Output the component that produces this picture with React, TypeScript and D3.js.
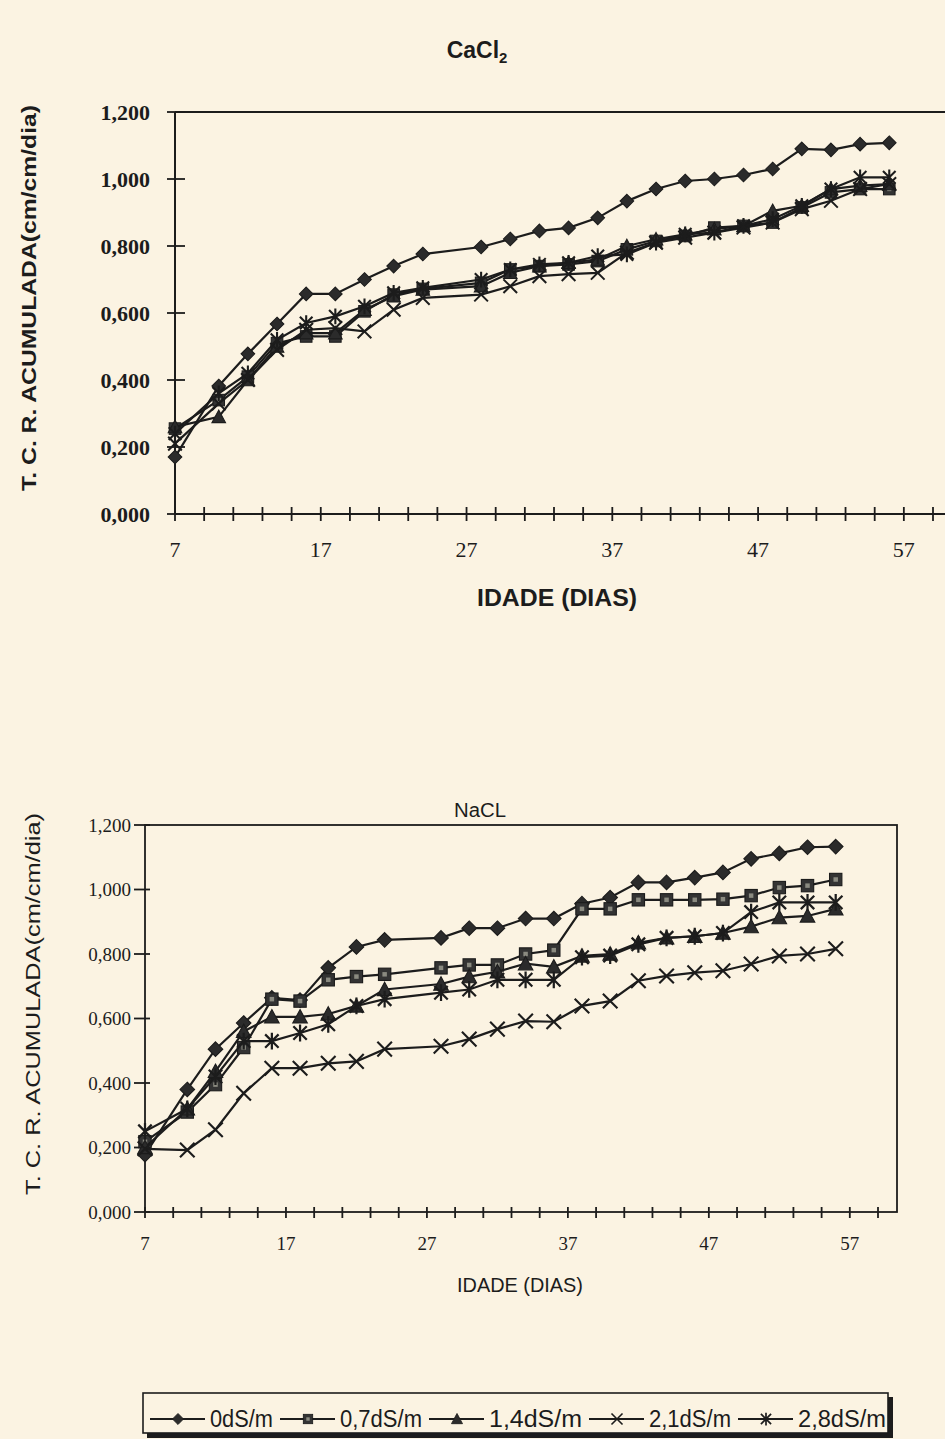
import React from "react";
import * as d3 from "d3";

// days sampled (x)
const DAYS = [7, 10, 12, 14, 16, 18, 20, 22, 24, 28, 30, 32, 34, 36, 38, 40, 42, 44, 46, 48, 50, 52, 54, 56];

// CaCl2 series
const CA_0 = [0.17, 0.382, 0.478, 0.567, 0.657, 0.657, 0.7, 0.74, 0.776, 0.797, 0.821, 0.845, 0.854, 0.884, 0.934, 0.97, 0.994, 1.0, 1.012, 1.03, 1.09, 1.087, 1.104, 1.108];
const CA_07 = [0.255, 0.34, 0.41, 0.51, 0.53, 0.53, 0.605, 0.655, 0.672, 0.69, 0.73, 0.74, 0.745, 0.755, 0.79, 0.815, 0.83, 0.855, 0.86, 0.87, 0.915, 0.96, 0.97, 0.97];
const CA_14 = [0.26, 0.29, 0.4, 0.5, 0.54, 0.54, 0.61, 0.65, 0.67, 0.68, 0.72, 0.74, 0.75, 0.76, 0.8, 0.82, 0.835, 0.85, 0.86, 0.905, 0.92, 0.97, 0.98, 0.985];
const CA_21 = [0.21, 0.33, 0.4, 0.49, 0.55, 0.555, 0.545, 0.61, 0.645, 0.655, 0.68, 0.71, 0.716, 0.72, 0.78, 0.81, 0.825, 0.84, 0.855, 0.87, 0.91, 0.935, 0.97, 0.985];
const CA_28 = [0.24, 0.36, 0.42, 0.52, 0.57, 0.59, 0.62, 0.66, 0.675, 0.7, 0.73, 0.745, 0.75, 0.77, 0.775, 0.81, 0.835, 0.84, 0.86, 0.88, 0.92, 0.97, 1.005, 1.005];

// NaCl series
const NA_0 = [0.178, 0.38, 0.505, 0.586, 0.664, 0.657, 0.757, 0.822, 0.844, 0.85, 0.88, 0.88, 0.91, 0.91, 0.956, 0.975, 1.022, 1.022, 1.037, 1.053, 1.095, 1.112, 1.131, 1.133];
const NA_07 = [0.218, 0.31, 0.395, 0.51, 0.66, 0.654, 0.72, 0.73, 0.737, 0.757, 0.766, 0.766, 0.8, 0.812, 0.94, 0.94, 0.968, 0.968, 0.968, 0.97, 0.981, 1.006, 1.012, 1.031];
const NA_14 = [0.2, 0.32, 0.436, 0.56, 0.605, 0.605, 0.614, 0.639, 0.69, 0.707, 0.73, 0.745, 0.77, 0.76, 0.794, 0.8, 0.835, 0.85, 0.855, 0.865, 0.885, 0.913, 0.918, 0.94];
const NA_21 = [0.196, 0.192, 0.255, 0.368, 0.446, 0.446, 0.461, 0.467, 0.505, 0.514, 0.536, 0.567, 0.592, 0.59, 0.639, 0.654, 0.717, 0.732, 0.742, 0.748, 0.769, 0.794, 0.8, 0.816];
const NA_28 = [0.25, 0.32, 0.42, 0.53, 0.53, 0.555, 0.582, 0.639, 0.66, 0.68, 0.69, 0.72, 0.72, 0.72, 0.79, 0.795, 0.83, 0.85, 0.855, 0.865, 0.93, 0.96, 0.96, 0.96];

const SERIES_NAMES = ["0dS/m", "0,7dS/m", "1,4dS/m", "2,1dS/m", "2,8dS/m"];
const MARKERS = ["diamond", "square", "triangle", "x", "asterisk"];
const Y_TICKS = [0, 0.2, 0.4, 0.6, 0.8, 1.0, 1.2];
const X_LABELS = [7, 17, 27, 37, 47, 57];
const X_MINOR = d3.range(7, 60, 2);

const BG = "#fbf3e2";
const INK = "#1c1c1c";
const SERIF = "'Liberation Serif', 'Times New Roman', serif";
const SANS = "'Liberation Sans', Arial, sans-serif";

const fmt = (v) => d3.format(".3f")(v).replace(".", ",");

function Marker({ kind, x, y, s = 1 }) {
  const t = `translate(${x},${y}) scale(${s})`;
  if (kind === "diamond")
    return <path transform={t} d="M0,-6.5L6.5,0L0,6.5L-6.5,0Z" fill="#2b2b2b" stroke={INK} strokeWidth={1} />;
  if (kind === "square")
    return (
      <g transform={t}>
        <rect x={-5.5} y={-5.5} width={11} height={11} fill="#333" stroke={INK} strokeWidth={1} />
        <rect x={-2} y={-2} width={4} height={4} fill="#8a8a80" />
      </g>
    );
  if (kind === "triangle")
    return <path transform={t} d="M0,-6.5L6.5,5.5L-6.5,5.5Z" fill="#2b2b2b" stroke={INK} strokeWidth={1} />;
  if (kind === "x")
    return <path transform={t} d="M-6.5,-6.5L6.5,6.5M-6.5,6.5L6.5,-6.5" fill="none" stroke={INK} strokeWidth={1.9} />;
  return <path transform={t} d="M-6,-6L6,6M-6,6L6,-6M0,-7.5V7.5" fill="none" stroke={INK} strokeWidth={2} />;
}

function Chart({ series, box, domainX, bold, frame, tickFont, yLabelRight, xLabelBase, yLabel, xTitle, title, mSize }) {
  const x = d3.scaleLinear().domain(domainX).range([box.left, box.xEnd]);
  const y = d3.scaleLinear().domain([0, 1.2]).range([box.bottom, box.top]);
  const line = d3.line().x((d) => x(d[0])).y((d) => y(d[1]));

  return (
    <g>
      {frame === "box" ? (
        <rect x={box.left} y={box.top} width={box.right - box.left} height={box.bottom - box.top} fill="none" stroke={INK} strokeWidth={1.8} />
      ) : (
        <g stroke={INK} strokeWidth={2}>
          <line x1={box.left} x2={box.right} y1={box.top} y2={box.top} />
          <line x1={box.left} x2={box.left} y1={box.top} y2={box.bottom} />
          <line x1={box.left} x2={box.right} y1={box.bottom} y2={box.bottom} />
        </g>
      )}
      {Y_TICKS.map((v) => (
        <g key={v}>
          <line x1={box.left - box.tickIn} x2={box.left + box.tickOut} y1={y(v)} y2={y(v)} stroke={INK} strokeWidth={1.8} />
          <text x={yLabelRight} y={y(v)} dy="0.35em" textAnchor="end" fontFamily={SERIF} fontSize={tickFont} fontWeight={bold ? "bold" : "normal"} fill={INK}>
            {fmt(v)}
          </text>
        </g>
      ))}
      {X_MINOR.map((d) => (
        <line key={d} x1={x(d)} x2={x(d)} y1={box.bottom - box.xTickUp} y2={box.bottom + box.xTickDown} stroke={INK} strokeWidth={1.8} />
      ))}
      {X_LABELS.map((d) => (
        <text key={d} x={x(d)} y={xLabelBase} textAnchor="middle" fontFamily={SERIF} fontSize={tickFont} fill={INK}>
          {d}
        </text>
      ))}
      {series.map((vals, i) => {
        const pts = DAYS.map((d, j) => [d, vals[j]]);
        return (
          <g key={i}>
            <path d={line(pts)} fill="none" stroke={INK} strokeWidth={2.2} />
            {pts.map((p, j) => (
              <Marker key={j} kind={MARKERS[i]} x={x(p[0])} y={y(p[1])} s={mSize} />
            ))}
          </g>
        );
      })}
      <text transform={`translate(${yLabel.x},${yLabel.cy}) rotate(-90)`} textAnchor="middle" dy="0.35em" fontFamily={SANS} fontSize={yLabel.size} fontWeight={bold ? "bold" : "normal"} textLength={yLabel.len} lengthAdjust="spacingAndGlyphs" fill={INK}>
        T. C. R. ACUMULADA(cm/cm/dia)
      </text>
      <text x={xTitle.cx} y={xTitle.base} textAnchor="middle" fontFamily={SANS} fontSize={xTitle.size} fontWeight={bold ? "bold" : "normal"} textLength={xTitle.len} lengthAdjust="spacingAndGlyphs" fill={INK}>
        IDADE (DIAS)
      </text>
      <text x={title.cx} y={title.base} textAnchor="middle" fontFamily={SANS} fontSize={title.size} fontWeight={bold ? "bold" : "normal"} fill={INK}>
        {title.sub ? (
          <>
            {title.text}
            <tspan fontSize={title.size * 0.65} dy={5}>{title.sub}</tspan>
          </>
        ) : (
          <tspan textLength={title.len} lengthAdjust="spacingAndGlyphs">{title.text}</tspan>
        )}
      </text>
    </g>
  );
}

function Legend() {
  const widths = [63, 82, 93, 82, 88];
  let cx = 150;
  const items = SERIES_NAMES.map((name, i) => {
    const start = cx;
    cx += 60 + widths[i] + 7;
    return { name, start, w: widths[i], kind: MARKERS[i] };
  });
  return (
    <g>
      <rect x={147} y={1397} width={746} height={41} fill={INK} />
      <rect x={143} y={1393} width={745} height={40} fill={BG} stroke={INK} strokeWidth={1.6} />
      {items.map((it) => (
        <g key={it.name}>
          <line x1={it.start} x2={it.start + 55} y1={1419} y2={1419} stroke={INK} strokeWidth={2} />
          <Marker kind={it.kind} x={it.start + 28} y={1419} s={0.85} />
          <text x={it.start + 60} y={1427} fontFamily={SANS} fontSize={23} textLength={it.w} lengthAdjust="spacingAndGlyphs" fill={INK}>
            {it.name}
          </text>
        </g>
      ))}
    </g>
  );
}

export default function App() {
  return (
    <div style={{ position: "absolute", left: 0, top: 0 }}>
      <svg width={945} height={1439} style={{ display: "block", background: BG }}>
        <rect width={945} height={1439} fill={BG} />
        <Chart
          series={[CA_0, CA_07, CA_14, CA_21, CA_28]}
          box={{ left: 175, right: 945, xEnd: 933, top: 112, bottom: 514, tickIn: 8, tickOut: 10, xTickUp: 7, xTickDown: 7 }}
          domainX={[7, 59]}
          bold={true}
          frame="open"
          tickFont={22}
          yLabelRight={150}
          xLabelBase={557}
          yLabel={{ x: 29, cy: 298, size: 21, len: 386 }}
          xTitle={{ cx: 557, base: 606, size: 24, len: 160 }}
          title={{ cx: 477, base: 58, size: 23, text: "CaCl", sub: "2" }}
          mSize={1.05}
        />
        <Chart
          series={[NA_0, NA_07, NA_14, NA_21, NA_28]}
          box={{ left: 145, right: 897, xEnd: 878, top: 825, bottom: 1212, tickIn: 11, tickOut: 5, xTickUp: 5, xTickDown: 6 }}
          domainX={[7, 59]}
          bold={false}
          frame="box"
          tickFont={19}
          yLabelRight={131}
          xLabelBase={1250}
          yLabel={{ x: 33, cy: 1004, size: 20, len: 382 }}
          xTitle={{ cx: 520, base: 1292, size: 20, len: 126 }}
          title={{ cx: 480, base: 817, size: 20, text: "NaCL", len: 52 }}
          mSize={1.12}
        />
        <Legend />
      </svg>
    </div>
  );
}
